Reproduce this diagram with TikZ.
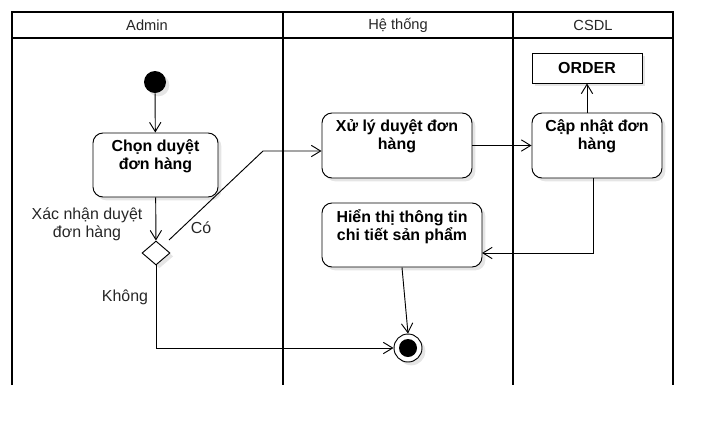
\documentclass[tikz,border=0pt]{standalone}
\usepackage{fontspec}
\setmainfont{Liberation Sans}
\usetikzlibrary{arrows.meta,shapes.geometric,shadows}

\begin{document}
\begin{tikzpicture}[x=0.03cm,y=-0.03cm,line width=0.8pt,>={Straight Barb[length=0.28cm,width=0.34cm]}]
	\def \lanetop{12}
	\def \headbot{38}
	\def \lanebot{385}
	\tikzstyle{lane}=[line width=2.2pt]
	\tikzstyle{head}=[font=\fontsize{12.5}{14}\selectfont,text=black!85]
	\tikzstyle{act}=[draw,rounded corners=0.3cm,fill=white,drop shadow={shadow xshift=0.1cm,shadow yshift=-0.1cm,opacity=0.1,fill=black}]
	\tikzstyle{acttext}=[anchor=north,inner sep=0pt,align=center,font=\bfseries\fontsize{13.6}{15.3}\selectfont]
	\tikzstyle{annot}=[align=center,inner sep=0pt,font=\fontsize{13.6}{15.3}\selectfont,text=black!85]
	\useasboundingbox (0,0) rectangle (722,436);

	% swimlanes
	\draw[lane] (12,\lanebot) -- (12,\lanetop) -- (673,\lanetop) -- (673,\lanebot);
	\draw[lane] (12,\headbot) -- (673,\headbot);
	\draw[lane] (283,\lanetop) -- (283,\lanebot);
	\draw[lane] (513,\lanetop) -- (513,\lanebot);
	\node[head] (hadmin)	at (147,25)	{Admin};
	\node[head] (hsys)	at (398,25)	{Hệ thống};
	\node[head] (hdb)	at (593,25)	{CSDL};

	% admin lane
	\node[circle,fill=black,minimum size=0.66cm,inner sep=0pt,drop shadow={shadow xshift=0.1cm,shadow yshift=-0.1cm,opacity=0.1,fill=black}] (start) at (155,82) {};
	\node[act,minimum width=3.75cm,minimum height=1.92cm] (chon) at (155.5,165) {};
	\node[acttext] (chontxt) at ([yshift=-0.2cm]chon.north) {Chọn duyệt\\đơn hàng};
	\node[diamond,draw,fill=white,minimum width=0.84cm,minimum height=0.72cm,inner sep=0pt,drop shadow={shadow xshift=0.1cm,shadow yshift=-0.1cm,opacity=0.1,fill=black}] (dia) at (156,253) {};
	\node[annot] (xacnhan) at (87,224) {Xác nhận duyệt\\đơn hàng};
	\node[annot] (co) at (201,228) {Có};
	\node[annot] (khong) at (125,297) {Không};

	% system lane
	\node[act,minimum width=4.5cm,minimum height=1.95cm] (xuly) at (397,145.5) {};
	\node[acttext] (xulytxt) at ([yshift=-0.2cm]xuly.north) {Xử lý duyệt đơn\\hàng};
	\node[act,minimum width=4.8cm,minimum height=1.92cm] (hienthi) at (402,235) {};
	\node[acttext] (hienthitxt) at ([yshift=-0.2cm]hienthi.north) {Hiển thị thông tin\\chi tiết sản phẩm};
	\node[circle,draw,fill=white,minimum size=0.84cm,inner sep=0pt,drop shadow={shadow xshift=0.1cm,shadow yshift=-0.1cm,opacity=0.1,fill=black}] (end) at (408,348) {};
	\node[circle,fill=black,minimum size=0.54cm,inner sep=0pt] (endin) at (end) {};

	% database lane
	\node[act,minimum width=3.9cm,minimum height=1.95cm] (capnhat) at (597,145.5) {};
	\node[acttext] (capnhattxt) at ([yshift=-0.2cm]capnhat.north) {Cập nhật đơn\\hàng};
	\node[draw,fill=white,minimum width=3.3cm,minimum height=0.9cm,font=\bfseries\fontsize{13.6}{15.3}\selectfont,drop shadow={shadow xshift=0.1cm,shadow yshift=-0.1cm,opacity=0.1,fill=black}] (order) at (587,68) {ORDER};

	% flows
	\coordinate (costart) at (169,240);
	\coordinate (cobend) at (263,151);
	\coordinate (capout) at (593,178);
	\coordinate (hienin) at (482,253);
	\draw[->] (start) -- (chon);
	\draw[->] (chon) -- (dia);
	\draw[->] (costart) -- (cobend) -- (cobend -| xuly.west);
	\draw[->] (dia.south) |- (end.west);
	\draw[->] (xuly.east) -- (capnhat.west);
	\draw[->] (order.south |- capnhat.north) -- (order.south);
	\draw[->] (capout) |- (hienin);
	\draw[->] (hienthi.south) -- (end.north);
\end{tikzpicture}
\end{document}
